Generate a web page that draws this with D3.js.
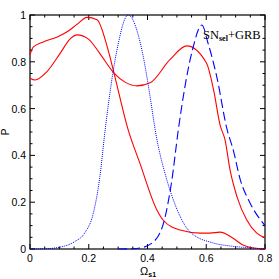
<html>
<head>
<meta charset="utf-8">
<script src="https://d3js.org/d3.v7.min.js"></script>
<style>
body { margin:0; padding:0; background:white; }
text { font-family: "Liberation Sans", Arial, sans-serif; }
</style>
</head>
<body>
<svg id="chart" width="279" height="279"></svg>
<script>
// curves: [omega, P]
var redA = [[0,0.83],[0.011,0.863],[0.045,0.885],[0.091,0.905],[0.125,0.927],[0.16,0.96],[0.194,0.99],
    [0.228,0.98],[0.266,0.85],[0.286,0.752],[0.334,0.51],[0.374,0.367],[0.432,0.167],[0.453,0.124],
    [0.511,0.081],[0.579,0.068],[0.613,0.068],[0.647,0.072],[0.69,0.047],[0.725,0.017],[0.76,0.004],[0.8,0]];
var redB = [[0,0.73],[0.017,0.722],[0.057,0.757],[0.102,0.835],[0.136,0.897],[0.16,0.915],[0.199,0.897],
    [0.238,0.835],[0.286,0.752],[0.325,0.712],[0.364,0.697],[0.409,0.71],[0.477,0.81],[0.534,0.868],
    [0.601,0.794],[0.625,0.68],[0.647,0.53],[0.664,0.466],[0.681,0.338],[0.705,0.222],[0.738,0.124],
    [0.772,0.068],[0.8,0.048]];
var blueDot = [[0,0],[0.05,0.001],[0.102,0.008],[0.15,0.03],[0.187,0.07],[0.215,0.15],[0.238,0.31],
    [0.255,0.5],[0.296,0.85],[0.334,1.0],[0.381,0.85],[0.409,0.65],[0.426,0.51],[0.466,0.295],
    [0.488,0.21],[0.545,0.073],[0.623,0.026],[0.681,0.013],[0.75,0.005],[0.8,0]];
var blueDash = [[0.3,0],[0.35,0.001],[0.374,0.004],[0.42,0.03],[0.46,0.137],[0.483,0.295],[0.505,0.51],
    [0.551,0.84],[0.585,0.957],[0.606,0.88],[0.636,0.735],[0.671,0.51],[0.692,0.423],[0.715,0.3],
    [0.749,0.197],[0.8,0.1]];
var xTicks = [0, 0.2, 0.4, 0.6, 0.8];
var yTicks = [0, 0.2, 0.4, 0.6, 0.8, 1];

var svg = d3.select("#chart");
var pLeft = 30, pRight = 265, pTop = 15, pBottom = 249;

var x = d3.scaleLinear().domain([0, 0.8]).range([pLeft, pRight]);
var y = d3.scaleLinear().domain([0, 1]).range([pBottom, pTop]);

var minorX = d3.range(0, 0.8001, 0.05);
var minorY = d3.range(0, 1.0001, 0.05);

// ticks, inward on all four sides
function tickLen(v, step) { return Math.abs(v / step - Math.round(v / step)) < 1e-6 ? 5 : 2.5; }
minorX.forEach(function(v) {
    var l = tickLen(v, 0.2);
    svg.append("line").attr("x1", x(v)).attr("x2", x(v)).attr("y1", pBottom).attr("y2", pBottom - l)
        .attr("stroke", "black").attr("stroke-width", 1);
    svg.append("line").attr("x1", x(v)).attr("x2", x(v)).attr("y1", pTop).attr("y2", pTop + l)
        .attr("stroke", "black").attr("stroke-width", 1);
});
minorY.forEach(function(v) {
    var l = tickLen(v, 0.2);
    svg.append("line").attr("y1", y(v)).attr("y2", y(v)).attr("x1", pLeft).attr("x2", pLeft + l)
        .attr("stroke", "black").attr("stroke-width", 1);
    svg.append("line").attr("y1", y(v)).attr("y2", y(v)).attr("x1", pRight).attr("x2", pRight - l)
        .attr("stroke", "black").attr("stroke-width", 1);
});

svg.append("rect").attr("x", pLeft).attr("y", pTop).attr("width", pRight - pLeft).attr("height", pBottom - pTop)
    .attr("fill", "none").attr("stroke", "black").attr("stroke-width", 1.2);

// tick labels
svg.selectAll(".xl").data(xTicks).enter().append("text")
    .attr("x", function(d) { return x(d); }).attr("y", 262)
    .attr("text-anchor", "middle").attr("font-size", 10.5)
    .text(function(d) { return d; });
svg.selectAll(".yl").data(yTicks).enter().append("text")
    .attr("x", 26).attr("y", function(d) { return y(d) + 4; })
    .attr("text-anchor", "end").attr("font-size", 10.5)
    .text(function(d) { return d; });

// axis titles
var xt = svg.append("text").attr("x", 140).attr("y", 275).attr("font-size", 11);
xt.append("tspan").text("Ω");
xt.append("tspan").attr("font-size", 7).attr("font-weight", "bold").attr("dy", 2).text("s1");
svg.append("text").attr("transform", "translate(9,132) rotate(-90)")
    .attr("text-anchor", "middle").attr("font-size", 10).text("P");

// curves
var line = d3.line().x(function(d) { return x(d[0]); }).y(function(d) { return y(d[1]); })
    .curve(d3.curveMonotoneX);

var g = svg.append("g");
g.append("path").datum(redA).attr("d", line).attr("fill", "none").attr("stroke", "#ff0000").attr("stroke-width", 1.1);
g.append("path").datum(redB).attr("d", line).attr("fill", "none").attr("stroke", "#ff0000").attr("stroke-width", 1.1);
g.append("path").datum(blueDot).attr("d", line).attr("fill", "none").attr("stroke", "#0000ff")
    .attr("stroke-width", 1).attr("stroke-dasharray", "1,1");
g.append("path").datum(blueDash).attr("d", line).attr("fill", "none").attr("stroke", "#0000ff")
    .attr("stroke-width", 1.1).attr("stroke-dasharray", "9,4");

// label
var lab = svg.append("text").attr("x", 203).attr("y", 39).attr("font-size", 12.5)
    .style("font-family", "'Liberation Serif', 'Times New Roman', serif");
lab.append("tspan").text("SN");
lab.append("tspan").attr("font-size", 8).attr("font-weight", "bold").attr("dy", 2).text("sel");
lab.append("tspan").attr("dy", -2).text("+GRB");
</script>
</body>
</html>
